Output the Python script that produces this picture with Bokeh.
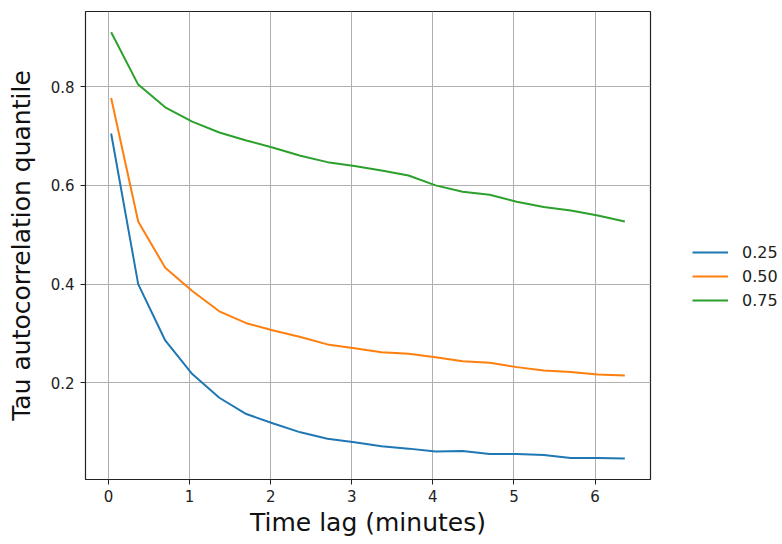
from bokeh.plotting import figure
from bokeh.models import Legend, LegendItem, FixedTicker, Range1d
from bokeh.layouts import row
from bokeh.embed import file_html
from bokeh.resources import INLINE

time_lag = [0.0333 + k / 3 for k in range(20)]
q25 = [0.705, 0.400, 0.286, 0.218, 0.170, 0.137, 0.118, 0.100, 0.087, 0.080,
       0.072, 0.067, 0.061, 0.062, 0.056, 0.056, 0.054, 0.048, 0.048, 0.047]
q50 = [0.777, 0.527, 0.433, 0.386, 0.345, 0.321, 0.306, 0.293, 0.278, 0.270,
       0.262, 0.259, 0.252, 0.244, 0.241, 0.232, 0.225, 0.222, 0.217, 0.215]
q75 = [0.910, 0.804, 0.758, 0.729, 0.707, 0.691, 0.676, 0.660, 0.647, 0.639,
       0.630, 0.620, 0.600, 0.587, 0.581, 0.567, 0.556, 0.549, 0.539, 0.527]
labels = ["0.25", "0.50", "0.75"]
colors = ["#1f77b4", "#ff7f0e", "#2ca02c"]
x_ticks = [0, 1, 2, 3, 4, 5, 6]
y_ticks = [0.2, 0.4, 0.6, 0.8]

FONT = "DejaVu Sans"
series = [q25, q50, q75]

p = figure(width=652, height=544, output_backend="svg", toolbar_location=None,
           x_range=Range1d(-0.283, 6.683), y_range=Range1d(0.0045, 0.952),
           min_border_left=85, min_border_right=2, min_border_top=11,
           min_border_bottom=65)

for ys, c in zip(series, colors):
    p.line(time_lag, ys, line_color=c, line_width=2)

p.outline_line_color = "#222222"
p.outline_line_width = 1.2
p.background_fill_color = "white"
p.border_fill_color = "white"

for ax in (p.xaxis[0], p.yaxis[0]):
    ax.axis_line_color = "#222222"
    ax.major_tick_line_color = "#222222"
    ax.major_tick_out = 5
    ax.major_tick_in = 0
    ax.minor_tick_line_color = None
    ax.major_label_text_font = FONT
    ax.major_label_text_font_size = "15px"
    ax.major_label_text_color = "#222222"
    ax.axis_label_text_font = FONT
    ax.axis_label_text_font_style = "normal"
    ax.axis_label_text_color = "#111111"
    ax.axis_label_text_font_size = "25px"

p.xaxis.ticker = FixedTicker(ticks=x_ticks)
p.yaxis.ticker = FixedTicker(ticks=y_ticks)
p.xaxis.axis_label = "Time lag (minutes)"
p.yaxis.axis_label = "Tau autocorrelation quantile"
p.xaxis.major_label_standoff = 5
p.yaxis.major_label_standoff = 6
p.xaxis.axis_label_standoff = 3
p.yaxis.axis_label_standoff = 12

p.xgrid.grid_line_color = "#b0b0b0"
p.ygrid.grid_line_color = "#b0b0b0"
p.xgrid.grid_line_width = 1
p.ygrid.grid_line_width = 1

# Legend panel (separate figure, same series drawn but kept out of view)
lf = figure(width=130, height=544, output_backend="svg", toolbar_location=None,
            x_range=Range1d(100, 101), y_range=Range1d(100, 101),
            min_border=0, outline_line_color=None)
lf.axis.visible = False
lf.grid.visible = False
lf.border_fill_color = "white"
lf.background_fill_color = "white"
legend_renderers = [lf.line(time_lag, ys, line_color=c, line_width=2)
                    for ys, c in zip(series, colors)]

legend = Legend(items=[LegendItem(label=l, renderers=[r]) for l, r in zip(labels, legend_renderers)],
                location=(40, 169), border_line_color=None, background_fill_alpha=0,
                glyph_width=36, glyph_height=20, label_height=20, spacing=4,
                label_standoff=14, padding=0, margin=0,
                label_text_font=FONT, label_text_font_size="16px",
                label_text_color="#222222")
lf.add_layout(legend, "center")

layout = row(p, lf, spacing=0)
open("out.html", "w").write(file_html(layout, INLINE))
